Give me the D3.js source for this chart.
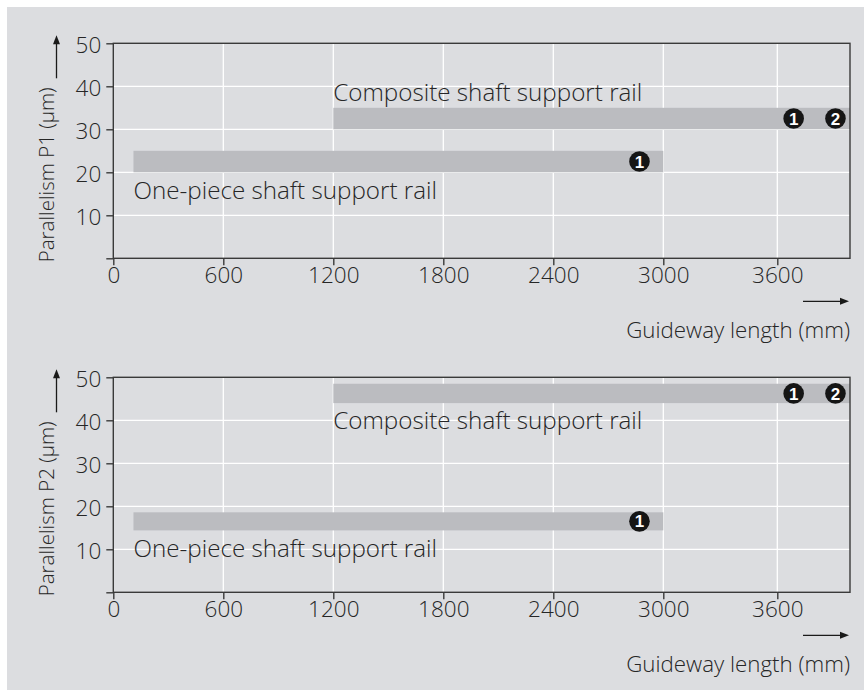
<!DOCTYPE html>
<html>
<head>
<meta charset="utf-8">
<script src="https://cdn.jsdelivr.net/npm/d3@7"></script>
<style>
  html, body { margin: 0; padding: 0; background: #ffffff; }
  svg { display: block; }
  text { font-family: "Open Sans", "Noto Sans", sans-serif; font-weight: 300; fill: #262626; }
</style>
</head>
<body>
<script>
// ---------- data ----------
const xTickValues = [0, 600, 1200, 1800, 2400, 3000, 3600];
const yTickValues = [0, 10, 20, 30, 40, 50];
const yLabels = ["Parallelism P1 (\u00b5m)", "Parallelism P2 (\u00b5m)"];
const xLabel = "Guideway length (mm)";
const railNames = ["Composite shaft support rail", "One-piece shaft support rail"];
// rail length ranges (mm)
const compositeRange = [1200, 4000];
const onePieceRange = [110, 3000];
// parallelism bands (µm) per panel
const p1Composite = [30, 35];
const p1OnePiece = [20, 25];
const p2Composite = [44, 48.5];
const p2OnePiece = [14.4, 18.6];
// numbered markers: guideway length (mm) and note number
const compositeMarkers = [[3690, "1"], [3920, "2"]];
const onePieceMarkers = [[2870, "1"]];

// ---------- layout ----------
const W = 864, H = 690;
const svg = d3.select("body").append("svg").attr("width", W).attr("height", H);
svg.append("rect").attr("x", 7).attr("y", 7).attr("width", W - 7).attr("height", H - 7).attr("fill", "#dcdde0");

const left = 113.3, right = 850;
const panelTops = [43.3, 377.3];
const plotH = 215;

const x = d3.scaleLinear().domain([0, 3000, 3600, 4000]).range([left, 663.3, 777.3, right]);

const panels = [
  { yLabel: yLabels[0], composite: p1Composite, onePiece: p1OnePiece, compLabelAbove: true },
  { yLabel: yLabels[1], composite: p2Composite, onePiece: p2OnePiece, compLabelAbove: false }
];

panels.forEach((p, i) => {
  const top = panelTops[i], bottom = top + plotH;
  const y = d3.scaleLinear().domain([0, 50]).range([bottom, top]);
  const g = svg.append("g");

  // grid
  g.selectAll(".vg").data(xTickValues.filter(d => d > 0)).enter().append("line")
    .attr("x1", d => x(d)).attr("x2", d => x(d)).attr("y1", top).attr("y2", bottom)
    .attr("stroke", "#ffffff").attr("stroke-width", 1.3);
  g.selectAll(".hg").data(yTickValues.filter(d => d > 0 && d < 50)).enter().append("line")
    .attr("x1", left).attr("x2", right).attr("y1", d => y(d)).attr("y2", d => y(d))
    .attr("stroke", "#ffffff").attr("stroke-width", 1.3);

  // bars
  const bars = [[compositeRange, p.composite], [onePieceRange, p.onePiece]];
  g.selectAll(".bar").data(bars).enter().append("rect")
    .attr("x", d => x(d[0][0])).attr("width", d => x(d[0][1]) - x(d[0][0]))
    .attr("y", d => y(d[1][1])).attr("height", d => y(d[1][0]) - y(d[1][1]))
    .attr("fill", "#bbbcc0");

  // frame
  g.append("rect").attr("x", left).attr("y", top).attr("width", right - left).attr("height", plotH)
    .attr("fill", "none").attr("stroke", "#3a3a3a").attr("stroke-width", 1.4);

  // axes
  const yAxis = d3.axisLeft(y).tickValues(yTickValues).tickSize(7).tickPadding(5)
    .tickFormat(d => d === 0 ? "" : d);
  const ya = g.append("g").attr("transform", `translate(${left},0)`).call(yAxis);
  ya.select(".domain").remove();
  ya.selectAll("line").attr("stroke", "#3a3a3a").attr("stroke-width", 1.4);
  ya.selectAll("text").attr("font-size", 22.5).attr("font-family", "Open Sans")
    .style("font-weight", 300).style("fill", "#262626").attr("dy", "0.4em");

  const xAxis = d3.axisBottom(x).tickValues(xTickValues).tickSize(7).tickPadding(6).tickFormat(d3.format("d"));
  const xa = g.append("g").attr("transform", `translate(0,${bottom})`).call(xAxis);
  xa.select(".domain").remove();
  xa.selectAll("line").attr("stroke", "#3a3a3a").attr("stroke-width", 1.4);
  xa.selectAll("text").attr("font-size", 22.5).attr("font-family", "Open Sans")
    .style("font-weight", 300).style("fill", "#262626").attr("dy", "0.52em");

  // rail labels
  g.append("text").attr("x", x(compositeRange[0]))
    .attr("y", p.compLabelAbove ? y(p.composite[1]) - 7 : y(p.composite[0]) + 26)
    .attr("font-size", 24.2).text(railNames[0]);
  g.append("text").attr("x", x(onePieceRange[0]))
    .attr("y", y(p.onePiece[0]) + 27)
    .attr("font-size", 24.2).text(railNames[1]);

  // markers
  const mk = compositeMarkers.map(m => ({ v: m[0], n: m[1], yv: (p.composite[0] + p.composite[1]) / 2 }))
    .concat(onePieceMarkers.map(m => ({ v: m[0], n: m[1], yv: (p.onePiece[0] + p.onePiece[1]) / 2 })));
  const mg = g.selectAll(".mk").data(mk).enter().append("g")
    .attr("transform", d => `translate(${x(d.v)},${y(d.yv)})`);
  mg.append("circle").attr("r", 10.3).attr("fill", "#151515");
  mg.append("text").attr("text-anchor", "middle").attr("dy", "0.36em")
    .attr("font-size", 17).style("font-weight", "bold").style("font-family", "Liberation Sans, Arial, sans-serif")
    .style("fill", "#ffffff").text(d => d.n);

  // y label with arrow
  g.append("text").attr("transform", `translate(${54},${top + 44}) rotate(-90)`)
    .attr("text-anchor", "end").attr("font-size", 20.5).text(p.yLabel);
  g.append("line").attr("x1", 56.5).attr("x2", 56.5).attr("y1", top + 35).attr("y2", top - 2)
    .attr("stroke", "#1a1a1a").attr("stroke-width", 1.3);
  g.append("path").attr("d", `M56.5,${top - 8} L53,${top + 1} L60,${top + 1} Z`).attr("fill", "#1a1a1a");

  // x label with arrow
  const ay = bottom + 43;
  g.append("line").attr("x1", 803).attr("x2", 842).attr("y1", ay).attr("y2", ay)
    .attr("stroke", "#1a1a1a").attr("stroke-width", 1.3);
  g.append("path").attr("d", `M849,${ay} L840,${ay - 3.5} L840,${ay + 3.5} Z`).attr("fill", "#1a1a1a");
  g.append("text").attr("x", 850).attr("y", bottom + 80).attr("text-anchor", "end")
    .attr("font-size", 22.3).text(xLabel);
});
</script>
</body>
</html>
